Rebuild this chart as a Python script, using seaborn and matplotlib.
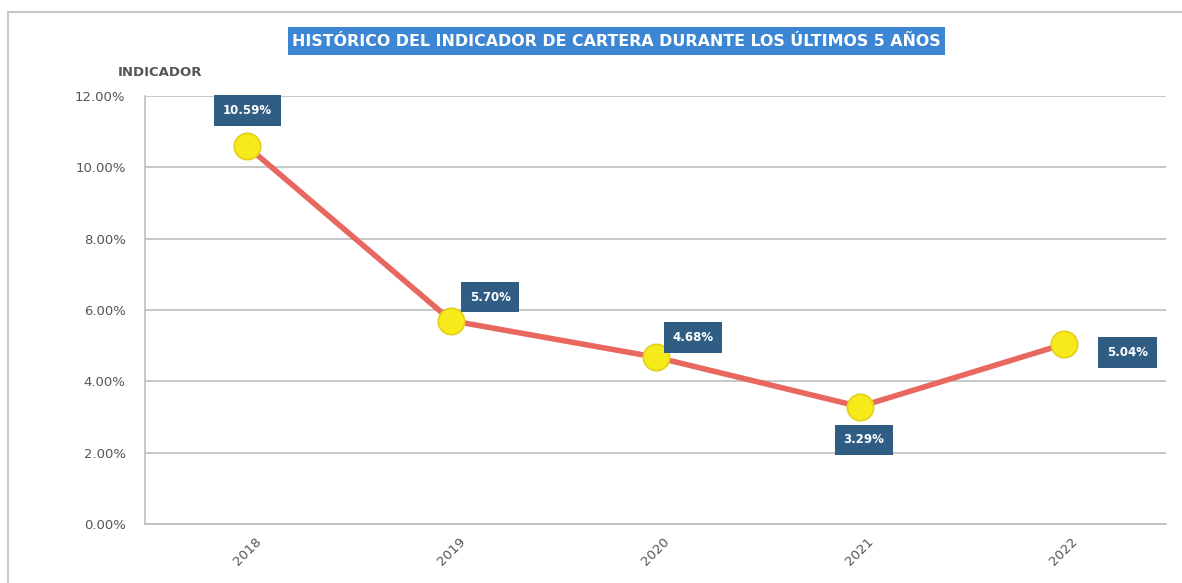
import matplotlib
matplotlib.use("Agg")
import matplotlib.pyplot as plt
import seaborn as sns
import pandas as pd
from matplotlib.patches import Rectangle

years = ["2018", "2019", "2020", "2021", "2022"]
values = [10.59, 5.70, 4.68, 3.29, 5.04]
labels = ["10.59%", "5.70%", "4.68%", "3.29%", "5.04%"]
yticks = [0, 2, 4, 6, 8, 10, 12]
ytick_labels = ["0.00%", "2.00%", "4.00%", "6.00%", "8.00%", "10.00%", "12.00%"]
title = "HISTÓRICO DEL INDICADOR DE CARTERA DURANTE LOS ÚLTIMOS 5 AÑOS"
ylabel = "INDICADOR"

sns.set_theme(style="white")
plt.rcParams['font.family'] = ['DejaVu Sans']

df = pd.DataFrame({"year": years, "value": values})
df["x"] = [i + 0.5 for i in range(len(years))]

fig = plt.figure(figsize=(11.82, 5.83), dpi=100)
ax = fig.add_axes([145/1182, 1 - 524/583, (1166-145)/1182, (524-96)/583])

sns.lineplot(data=df, x="x", y="value", ax=ax, color="#E8675F", linewidth=4,
             marker="o", markersize=19, markerfacecolor="#F7EA1A",
             markeredgecolor="#E3CF1C", markeredgewidth=1.2, zorder=3)

ax.set_xlim(0, 5)
ax.set_ylim(0, 12)
ax.set_yticks(yticks)
ax.set_yticklabels(ytick_labels, fontsize=9.5, color="#555555")
ax.set_xticks(df["x"])
ax.set_xticklabels(years, rotation=45, fontsize=9.5, color="#555555", ha="center")
ax.tick_params(axis="x", pad=8, length=0)
ax.tick_params(axis="y", pad=14, length=0)
ax.set_xlabel("")
ax.set_ylabel("")
ax.grid(axis="y", color="#BDBDBD", linewidth=1.2)
for s in ["top", "right"]:
    ax.spines[s].set_visible(False)
ax.spines["left"].set_color("#BDBDBD")
ax.spines["bottom"].set_color("#BDBDBD")
ax.spines["left"].set_linewidth(1.2)
ax.spines["bottom"].set_linewidth(1.2)

# label offsets in points (dx, dy)
offsets = [(0, 26), (28, 17), (27, 14), (3, -24), (46, -6)]
for xv, yv, lab, (dx, dy) in zip(df["x"], values, labels, offsets):
    ax.annotate(lab, (xv, yv), xytext=(dx, dy), textcoords="offset points",
                ha="center", va="center", fontsize=8.5, fontweight="bold",
                color="white",
                bbox=dict(boxstyle="square,pad=0.75", fc="#2F5D84", ec="none"),
                zorder=5)

fig.text(160/1182, 1 - 72/583, ylabel, fontsize=9.5, fontweight="bold",
         color="#555555", ha="center", va="center")

# title box
fig.patches.append(Rectangle((288/1182, 1 - 55/583), (945-288)/1182, 28/583,
                             transform=fig.transFigure, fc="#3C86D4", ec="none"))
fig.text(616/1182, 1 - 41/583, title, fontsize=11.4, fontweight="bold", color="white",
         ha="center", va="center")

# outer chart border
fig.patches.append(Rectangle((8/1182, -0.05), 1.1, 1 - 12/583 + 0.05,
                             transform=fig.transFigure, fill=False,
                             ec="#C8C8C8", lw=1.5))

fig.savefig("out.png", dpi=100)
